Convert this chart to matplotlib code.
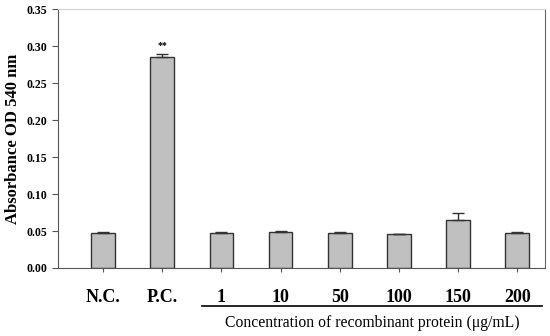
import numpy as np
import matplotlib.pyplot as plt
import matplotlib.transforms as mtransforms

plt.rcParams['font.family'] = ['Liberation Serif', 'DejaVu Serif']

labels = ['N.C.', 'P.C.', '1', '10', '50', '100', '150', '200']
means = [0.047, 0.285, 0.047, 0.049, 0.0473, 0.0455, 0.0653, 0.0477]
errs = [0.001, 0.004, 0.0015, 0.0015, 0.001, 0.0008, 0.0095, 0.0015]
sig = ['', '**', '', '', '', '', '', '']

fig = plt.figure(figsize=(5.5, 3.36), dpi=100)
ax = fig.add_axes([0.1055, 0.2024, 0.8855, 0.7706])

x = np.arange(len(labels))
ax.bar(x, means, width=0.4, color='#c0c0c0', edgecolor='#333333', linewidth=1.0,
       yerr=[np.zeros(len(errs)), errs], error_kw=dict(ecolor='#333333', elinewidth=1.0, capsize=4, capthick=1.0))
for i, s in enumerate(sig):
    if s:
        ax.text(x[i], means[i] + errs[i] + 0.006, s, ha='center', va='bottom', fontsize=7, fontweight='bold')

ax.set_xlim(-0.76, 7.47)
ax.set_ylim(0, 0.35)
ax.set_yticks(np.arange(0, 0.351, 0.05))
ax.set_yticklabels(['%.2f' % v for v in np.arange(0, 0.351, 0.05)], fontweight='bold', fontsize=8.5)
ax.set_xticks(x)
ax.set_xticklabels(labels, fontweight='bold', fontsize=13)
ax.tick_params(axis='x', length=3, pad=12, color='#555555')
ax.tick_params(axis='y', length=4, color='#555555')
ax.set_ylabel('Absorbance OD 540 nm', fontweight='bold', fontsize=12, labelpad=4)

ax.spines['top'].set_color('#d0d0d0')
ax.spines['right'].set_color('#666666')
ax.spines['left'].set_color('#555555')
ax.spines['bottom'].set_color('#555555')

trans = mtransforms.blended_transform_factory(ax.transData, fig.transFigure)
ax.plot([1.67, 7.42], [0.090, 0.090], transform=trans, color='black', linewidth=1.2, clip_on=False)
ax.text(4.55, 0.040, 'Concentration of recombinant protein (\u03bcg/mL)', transform=trans,
        ha='center', va='center', fontsize=11.3)

fig.savefig('out.png', dpi=100)
